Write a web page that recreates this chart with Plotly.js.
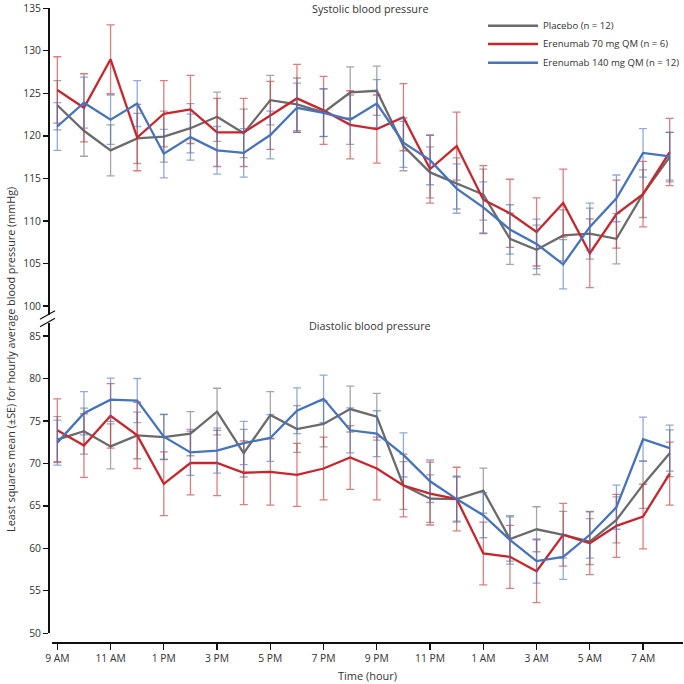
<!DOCTYPE html>
<html>
<head>
<meta charset="utf-8">
<script src="https://cdn.plot.ly/plotly-3.0.1.min.js"></script>
<style>html,body{margin:0;padding:0;background:#fff;}#chart{width:684px;height:684px;}</style>
</head>
<body>
<div id="chart"></div>
<script>
const hours = ["9 AM","10 AM","11 AM","12 PM","1 PM","2 PM","3 PM","4 PM","5 PM","6 PM","7 PM","8 PM",
               "9 PM","10 PM","11 PM","12 AM","1 AM","2 AM","3 AM","4 AM","5 AM","6 AM","7 AM","8 AM"];
const tickHours = ["9 AM","11 AM","1 PM","3 PM","5 PM","7 PM","9 PM","11 PM","1 AM","3 AM","5 AM","7 AM"];

// Systolic blood pressure (mmHg)
const sysPlacebo = [123.6,120.6,118.3,119.7,119.9,120.9,122.25,120.3,124.2,123.7,122.75,125.1,
                    125.3,118.8,115.7,114.4,113.1,107.9,106.6,108.3,108.5,107.9,113.2,117.5];
const sysPlaceboSE = [2.9,3.0,3.0,2.95,3.0,2.9,2.9,2.85,2.9,3.1,2.8,3.0,2.9,2.9,3.0,3.0,3.0,3.0,2.9,3.0,3.0,2.95,2.8,2.9];
const sys70 = [125.4,123.3,129.0,119.8,122.6,123.1,120.4,120.4,122.4,124.4,123.0,121.3,
               120.8,122.2,116.1,118.8,112.5,110.9,108.7,112.1,106.2,110.8,113.15,118.1];
const sys70SE = [3.9,4.0,4.05,3.9,3.9,4.0,4.0,4.0,4.0,4.0,4.0,4.0,4.0,3.95,4.0,4.0,4.0,4.0,4.0,4.0,4.05,4.0,3.85,3.95];
const sys140 = [121.1,123.9,121.9,123.8,117.9,119.85,118.3,118.0,120.1,123.3,122.7,121.9,
                123.8,119.2,117.15,113.8,111.6,109.0,107.3,104.9,109.3,112.65,118.0,117.6];
const sys140SE = [2.8,3.0,2.9,2.7,2.85,2.7,2.8,2.85,2.8,2.9,2.8,2.9,2.8,2.9,2.9,2.9,3.0,2.9,2.9,2.9,2.8,2.75,2.85,2.8];

// Diastolic blood pressure (mmHg)
const diaPlacebo = [72.8,73.8,72.0,73.3,73.1,73.5,76.1,71.2,75.7,74.05,74.65,76.4,
                    75.5,67.4,65.85,65.8,66.8,61.1,62.25,61.6,60.8,63.35,67.5,71.2];
const diaPlaceboSE = [2.7,2.7,2.65,2.75,2.65,2.6,2.75,2.8,2.75,2.75,2.7,2.7,2.75,2.8,2.8,2.7,2.65,2.6,2.65,2.75,2.7,2.7,2.8,2.75];
const dia70 = [73.9,72.1,75.6,73.3,67.6,70.05,70.05,68.9,69.0,68.65,69.4,70.7,
               69.4,67.4,66.45,65.8,59.4,59.0,57.3,61.6,60.6,62.65,63.75,68.8];
const dia70SE = [3.7,3.75,3.8,3.9,3.75,3.75,3.85,3.75,3.9,3.7,3.7,3.75,3.7,3.7,3.7,3.75,3.7,3.7,3.7,3.7,3.7,3.7,3.8,3.7];
const dia140 = [72.45,75.9,77.5,77.4,73.15,71.3,71.5,72.4,73.0,76.2,77.6,73.9,
                73.5,71.0,67.9,65.8,63.9,61.0,58.5,59.0,61.6,64.85,72.85,71.8];
const dia140SE = [2.65,2.55,2.55,2.6,2.65,2.7,2.65,2.55,2.75,2.7,2.8,2.65,2.7,2.6,2.5,2.6,2.65,2.85,2.6,2.65,2.75,2.6,2.6,2.7];

const seriesNames = ["Placebo (n = 12)", "Erenumab 70 mg QM (n = 6)", "Erenumab 140 mg QM (n = 12)"];
const lineColors = ["#6b6b6b", "#c8262c", "#4673be"];
const barColors = ["rgba(107,107,107,0.6)", "rgba(200,38,44,0.6)", "rgba(70,115,190,0.6)"];

const FONT = "Open Sans, sans-serif";

function mk(y, se, k, yaxis) {
  return {
    x: hours, y: y, type: "scatter", mode: "lines", yaxis: yaxis,
    name: seriesNames[k], showlegend: false,
    line: {color: lineColors[k], width: 2.3},
    error_y: {type: "data", array: se, visible: true, color: barColors[k], thickness: 1.3, width: 4}
  };
}

const traces = [
  mk(sysPlacebo, sysPlaceboSE, 0, "y"),
  mk(sys70, sys70SE, 1, "y"),
  mk(sys140, sys140SE, 2, "y"),
  mk(diaPlacebo, diaPlaceboSE, 0, "y2"),
  mk(dia70, dia70SE, 1, "y2"),
  mk(dia140, dia140SE, 2, "y2")
];

// pixel -> paper helpers (plot area: x 48..683, y 8..642)
const px = v => (v - 48) / 635;
const py = v => (642 - v) / 634;

const axisFont = {family: FONT, size: 10.3, color: "#333"};
const yCommon = {
  anchor: "free", position: 0, showgrid: false, zeroline: false,
  showline: true, linecolor: "#111", linewidth: 1.5,
  ticks: "outside", ticklen: 5, tickwidth: 1.3, tickcolor: "#111",
  tickfont: axisFont, dtick: 5
};

// legend drawn as line samples + labels
const legendRows = [25.7, 44, 62.7];
const legendShapes = seriesNames.map((n, k) => ({
  type: "line", xref: "paper", yref: "paper",
  x0: px(488), x1: px(538), y0: py(legendRows[k]), y1: py(legendRows[k]),
  line: {color: lineColors[k], width: 2.5}
}));
const legendLabels = seriesNames.map((n, k) => ({
  text: n, xref: "paper", yref: "paper", x: px(541), y: py(legendRows[k]),
  xanchor: "left", yanchor: "middle", showarrow: false,
  font: {family: FONT, size: 9.6, color: "#333"}
}));

const layout = {
  width: 684, height: 684,
  margin: {l: 48, r: 1, t: 8, b: 42},
  paper_bgcolor: "#fff", plot_bgcolor: "#fff",
  font: {family: FONT, color: "#333"},
  showlegend: false,
  xaxis: {
    type: "category", categoryorder: "array", categoryarray: hours,
    domain: [px(52), 1], range: [-0.2, 23.5], anchor: "free", position: 0,
    showgrid: false, zeroline: false, showline: true, linecolor: "#111", linewidth: 1.5,
    ticks: "outside", ticklen: 6, tickwidth: 1.3, tickcolor: "#111",
    tickvals: tickHours, ticktext: tickHours, tickfont: axisFont,
    title: {text: "Time (hour)", font: {family: FONT, size: 11, color: "#333"}, standoff: 8}
  },
  yaxis: Object.assign({}, yCommon, {domain: [py(315), 1], range: [98.94, 135.03], tick0: 100}),
  yaxis2: Object.assign({}, yCommon, {domain: [py(633.3), py(322.5)], range: [50, 86.59], tick0: 50}),
  annotations: [
    {text: "Systolic blood pressure", xref: "paper", yref: "paper", x: px(370), y: py(0),
     xanchor: "center", yanchor: "top", showarrow: false, borderpad: 0,
     font: {family: FONT, size: 10.8, color: "#333"}},
    {text: "Diastolic blood pressure", xref: "paper", yref: "paper", x: px(370), y: py(325),
     xanchor: "center", yanchor: "middle", showarrow: false,
     font: {family: FONT, size: 10.8, color: "#333"}},
    {text: "Least squares mean (±SE) for hourly average blood pressure (mmHg)", xref: "paper", yref: "paper",
     x: px(10), y: py(360), xanchor: "center", yanchor: "middle", textangle: -90, showarrow: false,
     font: {family: FONT, size: 10.8, color: "#333"}}
  ].concat(legendLabels),
  shapes: [
    {type: "line", xref: "paper", yref: "paper", x0: px(40), y0: py(319.3), x1: px(55), y1: py(310.7),
     line: {color: "#111", width: 1.3}},
    {type: "line", xref: "paper", yref: "paper", x0: px(40), y0: py(326.7), x1: px(55), y1: py(318.3),
     line: {color: "#111", width: 1.3}}
  ].concat(legendShapes)
};

Plotly.newPlot("chart", traces, layout, {displayModeBar: false, staticPlot: true});
</script>
</body>
</html>
